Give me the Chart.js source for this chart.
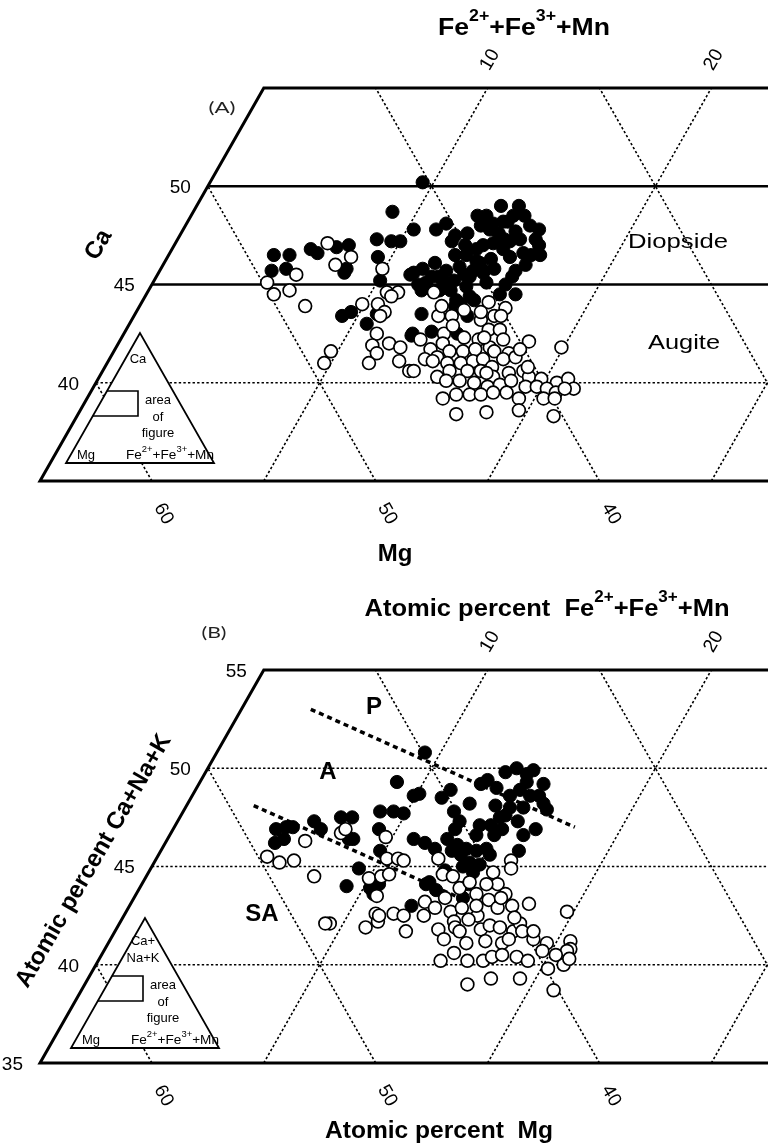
<!DOCTYPE html>
<html>
<head>
<meta charset="utf-8">
<script src="https://cdn.jsdelivr.net/npm/chart.js@4.4.1/dist/chart.umd.min.js"></script>
<style>
  html, body { margin: 0; padding: 0; background: #fff; }
  canvas { display: block; }
</style>
</head>
<body>
<canvas id="chartA" width="768" height="582"></canvas>
<canvas id="chartB" width="768" height="563"></canvas>
<script>
// Ternary window: Ca (or Ca+Na+K) 35-55 %, Fe2+ + Fe3+ + Mn on the right, Mg on the left
const CA_MIN = 35;
const CA_MAX = 55;
const FE_GRID = [10, 20, 30];
const MG_GRID = [60, 50, 40, 30];
const CA_GRID = [40, 45, 50];
const FE_TICKS = [10, 20];
const MG_TICKS = [60, 50, 40];
const CA_TICKS_A = [50, 45, 40];
const CA_TICKS_B = [55, 50, 45, 40, 35];

// [Fe2+ + Fe3+ + Mn, Ca] in atomic percent
const filledA = [
  [9.5, 50.2], [8.9, 48.7], [4.7, 46.5], [5.4, 46.5], [5.6, 45.8], [5.0, 45.7], [6.2, 46.8], [6.6, 46.6],
  [7.3, 46.9], [7.8, 47.0], [8.3, 45.8], [8.3, 45.6], [8.9, 47.3], [9.6, 47.2], [10.0, 47.2], [9.4, 46.4],
  [10.1, 45.2], [11.3, 45.5], [9.3, 43.4], [9.6, 43.6], [10.6, 43.0], [10.8, 43.5], [12.9, 42.4],
  [10.3, 47.8], [11.3, 47.8], [11.6, 48.1], [12.3, 47.2], [12.8, 47.6], [12.8, 48.5], [13.2, 48.5],
  [13.6, 49.0], [14.4, 48.5], [14.9, 48.5], [13.7, 47.8], [14.2, 47.6], [14.9, 47.7], [15.3, 47.3],
  [14.2, 47.1], [14.8, 46.8], [14.5, 46.3], [15.3, 46.4], [15.8, 46.6], [16.2, 46.5], [16.3, 47.0],
  [16.6, 46.5], [15.9, 45.7], [15.9, 45.4], [16.5, 44.5], [13.9, 46.2], [14.0, 45.7], [14.0, 45.4],
  [14.5, 45.6], [14.9, 45.1], [11.7, 45.8], [11.4, 45.6], [12.2, 45.1], [12.6, 45.4], [12.8, 45.7],
  [13.4, 45.2], [13.7, 45.5], [14.1, 44.9], [14.3, 44.0], [14.5, 44.4], [14.9, 43.4], [14.1, 43.9],
  [12.8, 43.5], [13.7, 42.6], [12.9, 42.5], [14.9, 42.5], [14.0, 44.2], [14.3, 48.2], [15.4, 48.0],
  [14.6, 47.3], [13.8, 47.0], [12.8, 46.5], [12.1, 46.1], [12.9, 45.2], [12.3, 45.4], [11.9, 45.0],
  [13.3, 45.9], [13.6, 46.8], [13.3, 46.5], [14.5, 45.7], [14.9, 47.2], [14.1, 48.2], [13.7, 48.1],
  [13.2, 48.0], [14.1, 46.1], [14.9, 45.8], [15.8, 45.0], [15.8, 44.5], [16.2, 46.0], [16.0, 47.3],
  [14.4, 49.0], [15.9, 47.8], [13.0, 47.0], [12.3, 47.5], [13.0, 44.7], [13.5, 44.7], [12.2, 44.7],
  [14.8, 44.2]
];
const openA = [
  [6.8, 47.1], [8.2, 46.4], [7.7, 46.0], [6.2, 45.5], [5.1, 45.1], [5.7, 44.5], [6.3, 44.7], [7.4, 43.9],
  [9.9, 44.0], [9.9, 45.8], [10.7, 44.6], [11.2, 44.6], [11.0, 44.4], [10.6, 44.0], [11.1, 43.6],
  [11.0, 43.4], [11.3, 42.5], [11.4, 41.9], [11.8, 41.5], [11.7, 41.0], [9.7, 41.6], [9.7, 41.0],
  [12.1, 42.0], [12.7, 41.8], [13.0, 41.1], [13.7, 40.6], [15.5, 44.1], [16.4, 43.8], [12.8, 44.6],
  [13.6, 43.4], [14.2, 43.4], [15.6, 43.2], [16.1, 43.4], [16.2, 42.7], [16.7, 42.7], [14.3, 42.5],
  [13.4, 42.2], [14.1, 41.7], [14.5, 42.0], [15.3, 42.3], [16.0, 42.2], [16.7, 41.8], [17.1, 42.2],
  [18.3, 42.1], [19.9, 41.8], [14.1, 41.2], [14.6, 41.3], [15.0, 41.6], [15.6, 41.6], [16.1, 41.7],
  [17.0, 41.6], [17.7, 41.5], [14.5, 41.1], [15.2, 41.0], [15.8, 41.0], [16.3, 41.1], [16.7, 41.2],
  [17.3, 40.8], [17.6, 41.2], [18.1, 41.3], [13.9, 40.6], [15.1, 40.3], [15.5, 40.6], [16.3, 40.6],
  [16.9, 40.6], [17.6, 40.3], [18.2, 40.5], [18.8, 40.6], [19.2, 40.3], [19.8, 40.2], [20.6, 40.0],
  [21.0, 40.2], [21.5, 39.7], [15.6, 40.1], [16.9, 40.0], [17.6, 39.8], [18.1, 39.9], [18.5, 40.1],
  [19.3, 39.8], [19.8, 39.8], [20.3, 39.7], [20.8, 39.5], [21.1, 39.7], [15.9, 39.2], [16.4, 39.4],
  [17.0, 39.4], [17.5, 39.4], [18.0, 39.5], [18.6, 39.5], [19.3, 39.2], [20.4, 39.2], [20.9, 39.2],
  [16.9, 38.4], [18.2, 38.5], [19.6, 38.6], [21.3, 38.3], [13.5, 43.9], [14.6, 43.7], [14.5, 42.9],
  [15.4, 43.6], [16.4, 43.4], [16.2, 42.3], [18.1, 41.7], [18.9, 40.8], [17.2, 40.5], [16.2, 40.1]
];

// [Fe2+ + Fe3+ + Mn, Ca+Na+K] in atomic percent
const filledB = [
  [8.8, 49.3], [9.9, 48.6], [4.6, 46.9], [5.0, 47.0], [5.3, 47.0], [4.9, 46.2], [5.2, 46.4], [6.1, 47.3],
  [6.6, 46.9], [7.2, 47.5], [7.7, 47.5], [8.1, 46.4], [8.3, 46.4], [8.8, 47.8], [9.4, 47.8], [9.9, 47.7],
  [9.2, 46.9], [9.8, 45.8], [11.0, 46.4], [9.3, 44.9], [9.2, 44.0], [10.3, 43.9], [10.6, 44.1],
  [10.6, 43.6], [12.6, 43.0], [9.3, 50.8], [10.1, 48.7], [11.2, 48.5], [11.4, 48.9], [12.1, 47.8],
  [12.6, 48.2], [12.6, 49.2], [12.8, 49.4], [13.4, 49.8], [13.8, 50.0], [14.6, 49.3], [13.4, 49.0],
  [14.2, 48.6], [13.8, 48.1], [14.5, 48.0], [15.1, 48.0], [15.1, 48.6], [15.9, 48.2], [16.2, 47.9],
  [14.3, 47.5], [15.2, 47.3], [15.8, 46.6], [16.0, 45.8], [13.6, 47.1], [13.7, 46.6], [11.6, 46.2],
  [12.2, 45.9], [12.5, 46.4], [13.1, 46.1], [13.6, 45.9], [14.5, 45.9], [14.8, 45.6], [13.9, 45.0],
  [14.5, 44.7], [12.7, 44.1], [13.3, 43.8], [14.6, 44.1], [14.7, 43.4], [12.6, 47.3], [14.1, 47.1],
  [14.7, 46.9], [13.0, 45.8], [14.1, 45.8], [12.8, 44.2], [14.1, 45.2], [15.4, 49.2], [14.4, 49.7],
  [14.6, 49.9], [14.5, 48.9], [15.5, 48.6], [14.5, 47.6], [16.2, 46.9], [14.5, 46.6], [13.5, 45.6],
  [13.2, 44.8], [14.6, 45.1], [12.6, 46.9]
];
const openB = [
  [7.6, 46.7], [7.7, 46.9], [6.2, 46.3], [4.9, 45.5], [5.6, 45.2], [6.2, 45.3], [7.5, 44.5], [9.7, 46.5],
  [10.3, 45.4], [10.8, 45.4], [11.1, 45.3], [10.0, 44.4], [10.5, 44.5], [10.8, 44.6], [10.8, 43.5],
  [9.4, 42.1], [9.2, 42.1], [11.2, 42.6], [11.1, 41.9], [11.5, 42.2], [12.0, 42.6], [12.5, 42.5],
  [13.0, 41.7], [12.6, 45.4], [15.9, 45.3], [16.1, 44.9], [13.2, 44.6], [15.4, 44.7], [15.9, 44.1],
  [16.5, 43.6], [13.1, 43.2], [13.9, 43.4], [14.3, 43.9], [15.2, 43.6], [15.9, 43.3], [17.8, 43.1],
  [19.7, 42.7], [13.4, 42.5], [13.7, 42.9], [14.5, 42.7], [14.9, 42.9], [15.8, 42.5], [16.5, 42.9],
  [17.1, 43.0], [14.4, 41.8], [14.9, 42.2], [15.5, 42.3], [16.3, 41.8], [16.6, 42.0], [17.1, 41.9],
  [17.8, 41.7], [17.9, 42.1], [18.9, 41.3], [19.6, 41.1], [20.6, 41.2], [20.8, 40.8], [14.9, 41.3],
  [16.0, 41.1], [16.8, 41.2], [17.6, 41.1], [17.8, 41.3], [15.3, 40.2], [15.7, 40.6], [16.5, 40.2],
  [17.2, 40.2], [17.5, 40.4], [17.9, 40.5], [18.6, 40.4], [19.2, 40.2], [19.6, 40.7], [20.3, 39.8],
  [20.9, 40.0], [20.7, 40.7], [17.1, 39.0], [18.0, 39.3], [19.3, 39.3], [21.1, 38.7], [15.1, 41.9],
  [11.4, 42.5], [13.7, 44.5], [14.6, 44.2], [15.4, 44.1], [16.4, 43.4], [17.5, 42.4], [18.2, 41.7],
  [18.7, 41.7], [15.5, 43.0], [15.4, 41.7], [20.3, 40.5], [21.0, 40.3]
];

// field boundaries P / A / SA
const boundaryPA = [[3.1, 53.0], [17.9, 47.0]];
const boundaryASA = [[3.0, 48.1], [14.8, 43.3]];

const FONT = '"Liberation Sans", Arial, Helvetica, sans-serif';
const DOT = [2.4, 2.2];
const FE_SUP = [['Fe', 0], ['2+', 1], ['+Fe', 0], ['3+', 1], ['+Mn', 0]];

// cartesian position inside the triangle: x = Fe + Ca/2, y = Ca
const toXY = ([fe, ca]) => ({ x: fe + ca / 2, y: ca });

function tern(chart, fe, ca) {
  return [chart.scales.x.getPixelForValue(fe + ca / 2), chart.scales.y.getPixelForValue(ca)];
}

function drawRich(ctx, parts, cx, cy, opt) {
  const size = opt.size;
  const weight = opt.bold ? 'bold ' : '';
  const fam = opt.family || FONT;
  const supSize = Math.round(size * 0.68);
  const fontFor = sup => `${weight}${sup ? supSize : size}px ${fam}`;
  let natural = 0;
  for (const [t, sup] of parts) { ctx.font = fontFor(sup); natural += ctx.measureText(t).width; }
  const sx = opt.width ? opt.width / natural : 1;
  ctx.save();
  ctx.translate(cx, cy);
  if (opt.angle) ctx.rotate(opt.angle * Math.PI / 180);
  ctx.scale(sx, 1);
  ctx.fillStyle = opt.color || '#000';
  ctx.textBaseline = 'alphabetic';
  ctx.textAlign = 'left';
  let x = opt.align === 'right' ? -natural : -natural / 2;
  const base = size * 0.36;
  for (const [t, sup] of parts) {
    ctx.font = fontFor(sup);
    ctx.fillText(t, x, sup ? base - size * 0.55 : base);
    x += ctx.measureText(t).width;
  }
  ctx.restore();
}

function drawText(ctx, text, cx, cy, opt) {
  drawRich(ctx, [[text, 0]], cx, cy, opt);
}

function drawFrame(chart, panel) {
  const ctx = chart.ctx;
  const right = chart.width;
  const yOf = ca => chart.scales.y.getPixelForValue(ca);
  const P = (fe, ca) => tern(chart, fe, ca);
  const seg = (a, b, width, dash) => {
    ctx.beginPath();
    ctx.lineWidth = width;
    ctx.setLineDash(dash || []);
    ctx.moveTo(a[0], a[1]);
    ctx.lineTo(b[0], b[1]);
    ctx.stroke();
  };
  ctx.save();
  ctx.strokeStyle = '#000';
  ctx.lineCap = 'butt';
  // iso-Fe lines rise to the right, iso-Mg lines rise to the left
  FE_GRID.forEach(fe => seg(P(fe, CA_MIN), P(fe, CA_MAX), 1.6, DOT));
  MG_GRID.forEach(mg => {
    const top = Math.min(CA_MAX, 100 - mg);
    seg(P(100 - mg - CA_MIN, CA_MIN), P(100 - mg - top, top), 1.6, DOT);
  });
  CA_GRID.forEach(ca => {
    const solid = panel.solidCa.includes(ca);
    seg(P(0, ca), [right, yOf(ca)], solid ? 2.4 : 1.6, solid ? [] : DOT);
  });
  // outer frame: top, left side (Fe = 0), bottom
  ctx.setLineDash([]);
  ctx.lineWidth = 3;
  ctx.lineJoin = 'miter';
  const tl = P(0, CA_MAX), bl = P(0, CA_MIN);
  ctx.beginPath();
  ctx.moveTo(right, tl[1]);
  ctx.lineTo(tl[0], tl[1]);
  ctx.lineTo(bl[0], bl[1]);
  ctx.lineTo(right, bl[1]);
  ctx.stroke();
  ctx.restore();
}

function drawInset(chart, panel) {
  const ctx = chart.ctx;
  const s = panel.inset;
  const ax = s.x, ay = s.y, h = 130, half = 74;
  const edgeX = dy => ax - half * dy / h;
  ctx.save();
  ctx.setLineDash([]);
  ctx.strokeStyle = '#000';
  ctx.beginPath();
  ctx.moveTo(ax, ay);
  ctx.lineTo(ax - half, ay + h);
  ctx.lineTo(ax + half, ay + h);
  ctx.closePath();
  ctx.fillStyle = '#fff';
  ctx.fill();
  ctx.lineWidth = 1.8;
  ctx.stroke();
  // box that marks the enlarged window
  ctx.beginPath();
  ctx.moveTo(edgeX(58), ay + 58);
  ctx.lineTo(ax - 2, ay + 58);
  ctx.lineTo(ax - 2, ay + 83);
  ctx.lineTo(edgeX(83), ay + 83);
  ctx.lineWidth = 1.6;
  ctx.stroke();
  const small = { size: 13 };
  s.apexLabel.forEach((t, i) => drawText(ctx, t, ax - 2, ay + s.apexY + i * 17, small));
  drawText(ctx, 'area', ax + 18, ay + 66, small);
  drawText(ctx, 'of', ax + 18, ay + 83, small);
  drawText(ctx, 'figure', ax + 18, ay + 99, small);
  drawText(ctx, 'Mg', ax - 54, ay + 121, small);
  drawRich(ctx, FE_SUP, ax + 30, ay + 121, { size: 13, width: 88 });
  ctx.restore();
}

function drawLabels(chart, panel) {
  const ctx = chart.ctx;
  const tick = { size: 19 };
  FE_TICKS.forEach(fe => {
    const [x, y] = tern(chart, fe, CA_MAX);
    drawText(ctx, String(fe), x + 1, y - 29, { ...tick, angle: -60 });
  });
  MG_TICKS.forEach(mg => {
    const [x, y] = tern(chart, 100 - mg - CA_MIN, CA_MIN);
    drawText(ctx, String(mg), x + 13, y + 32, { ...tick, angle: 60 });
  });
  panel.caTicks.forEach(ca => {
    const [x, y] = tern(chart, 0, ca);
    drawText(ctx, String(ca), x - 17, y, { ...tick, align: 'right' });
  });
  panel.labels.forEach(l => {
    if (l.parts) drawRich(ctx, l.parts, l.x, l.y, l);
    else drawText(ctx, l.text, l.x, l.y, l);
  });
}

function framePlugin(panel) {
  return {
    id: 'frame' + panel.id,
    beforeDatasetsDraw(chart) {
      drawFrame(chart, panel);
      drawInset(chart, panel);
    },
    afterDatasetsDraw(chart) {
      drawLabels(chart, panel);
    }
  };
}

function buildPanel(panel) {
  const canvas = document.getElementById(panel.canvas);
  const datasets = [];
  panel.dividers.forEach(line => datasets.push({
    data: line.map(toXY),
    showLine: true,
    borderColor: '#000',
    borderWidth: 3.5,
    borderDash: [5, 4],
    pointRadius: 0,
    order: 3
  }));
  datasets.push({
    data: panel.filled.map(toXY),
    pointRadius: 6.6,
    pointBackgroundColor: '#000',
    pointBorderColor: '#000',
    pointBorderWidth: 1,
    order: 2
  });
  datasets.push({
    data: panel.open.map(toXY),
    pointRadius: 6.4,
    pointBackgroundColor: '#fff',
    pointBorderColor: '#000',
    pointBorderWidth: 1.7,
    order: 1
  });
  return new Chart(canvas, {
    type: 'scatter',
    data: { datasets },
    options: {
      responsive: false,
      animation: false,
      devicePixelRatio: 1,
      events: [],
      layout: { padding: { left: 40, right: 0, top: 88, bottom: canvas.height - 481 } },
      scales: {
        x: { type: 'linear', display: false, min: 17.5, max: 17.5 + 728 / 22.63 },
        y: { type: 'linear', display: false, min: CA_MIN, max: CA_MAX }
      },
      plugins: { legend: { display: false }, tooltip: { enabled: false } }
    },
    plugins: [framePlugin(panel)]
  });
}

buildPanel({
  id: 'A',
  canvas: 'chartA',
  solidCa: [45, 50],
  caTicks: CA_TICKS_A,
  filled: filledA,
  open: openA,
  dividers: [],
  inset: { x: 140, y: 333, apexLabel: ['Ca'], apexY: 25 },
  labels: [
    { parts: FE_SUP, x: 524, y: 26, size: 24, bold: true, width: 172 },
    { text: 'Mg', x: 395, y: 552, size: 24, bold: true },
    { text: 'Ca', x: 97, y: 244, size: 24, bold: true, angle: -60 },
    { text: '(A)', x: 222, y: 107, size: 16, family: 'Lato, sans-serif', width: 27, color: '#222' },
    { text: 'Diopside', x: 678, y: 240, size: 21, width: 100 },
    { text: 'Augite', x: 684, y: 341, size: 21, width: 72 }
  ]
});

buildPanel({
  id: 'B',
  canvas: 'chartB',
  solidCa: [],
  caTicks: CA_TICKS_B,
  filled: filledB,
  open: openB,
  dividers: [boundaryPA, boundaryASA],
  inset: { x: 145, y: 336, apexLabel: ['Ca+', 'Na+K'], apexY: 22 },
  labels: [
    { parts: [['Atomic percent  ', 0], ...FE_SUP], x: 547, y: 25, size: 24, bold: true, width: 365 },
    { text: 'Atomic percent  Mg', x: 439, y: 547, size: 24, bold: true, width: 228 },
    { text: 'Atomic percent Ca+Na+K', x: 92, y: 278, size: 24, bold: true, angle: -60 },
    { text: '(B)', x: 214, y: 50, size: 16, family: 'Lato, sans-serif', width: 25, color: '#222' },
    { text: 'P', x: 374, y: 123, size: 24, bold: true },
    { text: 'A', x: 328, y: 188, size: 24, bold: true },
    { text: 'SA', x: 262, y: 330, size: 24, bold: true }
  ]
});
</script>
</body>
</html>
